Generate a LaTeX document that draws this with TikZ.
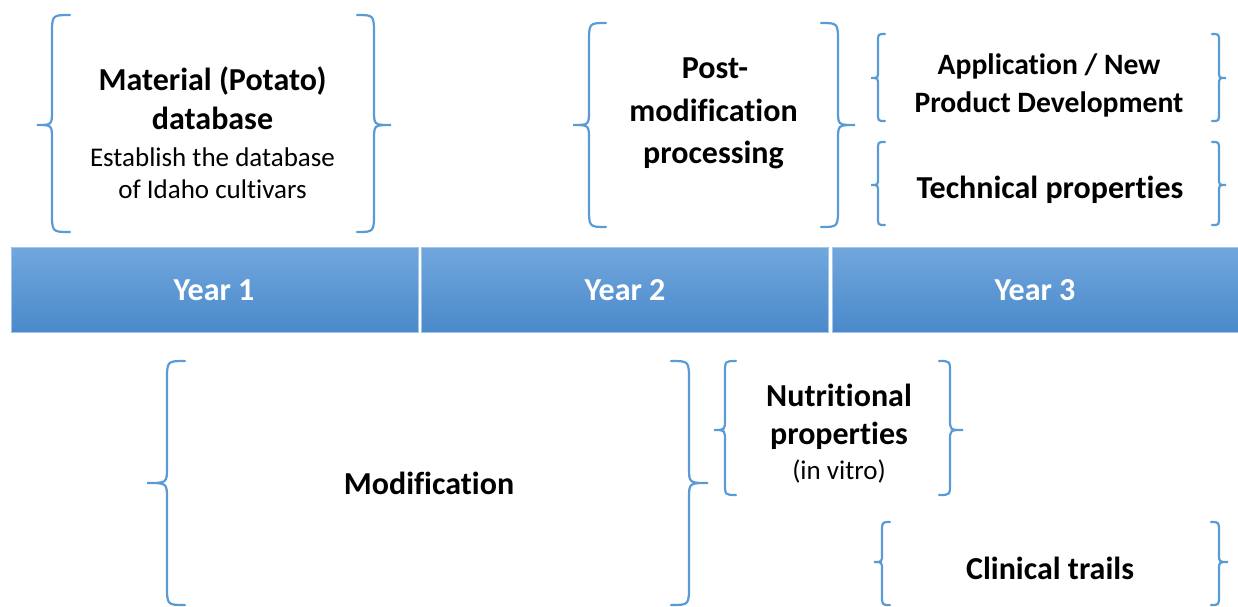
\documentclass[tikz,border=0pt]{standalone}
\usepackage{fontspec}
\setmainfont{Carlito}[Ligatures=NoCommon]
\definecolor{brc}{HTML}{5B9BD5}
\definecolor{bartop}{HTML}{71A7DD}
\definecolor{barbot}{HTML}{4A89CB}
\definecolor{barline}{HTML}{A3C6E8}
\newcommand{\cbrL}[8]{% xv xt xc top mid bot r1 r2
  \draw[brace] (#3,#4) .. controls (#1,#4) .. (#1,#4+#7) -- (#1,#5-#8)
    .. controls (#1,#5) .. (#2,#5) .. controls (#1,#5) .. (#1,#5+#8)
    -- (#1,#6-#7) .. controls (#1,#6) .. (#3,#6);}
\tikzset{
  brace/.style={draw=brc, line width=2.2pt, line cap=round},
  yearbox/.style={draw=barline, line width=1pt, top color=bartop, bottom color=barbot},
  yearlbl/.style={text=white, font=\bfseries\fontsize{32}{38}\selectfont, anchor=base, inner sep=0pt},
  bt/.style={font=\bfseries\fontsize{32}{38}\selectfont, anchor=base, inner sep=0pt},
  bts/.style={font=\bfseries\fontsize{29.6}{36}\selectfont, anchor=base, inner sep=0pt},
  rt/.style={font=\fontsize{27}{32}\selectfont, anchor=base, inner sep=0pt},
}
\begin{document}
\begin{tikzpicture}[x=1pt,y=-1pt]
\useasboundingbox (0,0) rectangle (1238,606);
% year bar
\path[yearbox] (11,247) rectangle (418,332);
\path[yearbox] (421,247) rectangle (828,332);
\path[yearbox] (832,247) rectangle (1240,332);
\node[yearlbl] (y1) at (214,300) {Year 1};
\node[yearlbl] (y2) at (625,300) {Year 2};
\node[yearlbl] (y3) at (1035,300) {Year 3};
% braces (left and right)
\cbrL{52}{37}{70}{15}{125}{232}{20}{15}
\cbrL{374}{391}{357}{15}{125}{232}{20}{15}
\cbrL{589}{573}{606}{23}{125}{227}{20}{15}
\cbrL{838}{855}{821}{23}{125}{227}{20}{15}
\cbrL{878}{871}{885}{34}{78}{121}{8}{7}
\cbrL{1219}{1226}{1212}{34}{78}{121}{8}{7}
\cbrL{878}{871}{885}{142}{185}{225}{8}{7}
\cbrL{1219}{1226}{1212}{142}{185}{225}{8}{7}
\cbrL{167}{147}{185}{361}{483}{605}{20}{16}
\cbrL{689}{708}{671}{361}{483}{605}{20}{16}
\cbrL{725}{714}{736}{361}{430}{495}{12}{11}
\cbrL{950}{963}{939}{361}{430}{495}{12}{11}
\cbrL{882}{874}{890}{522}{562}{605}{10}{8}
\cbrL{1219}{1228}{1211}{522}{562}{605}{10}{8}
% texts
\node[bt] (m1) at (212.5,90) {Material (Potato)};
\node[bt] (m2) at (212.5,129) {database};
\node[rt] (m3) at (212.5,166) {Establish the database};
\node[rt] (m4) at (212.5,198) {of Idaho cultivars};
\node[bt] (p1) at (715,78) {Post-};
\node[bt] (p2) at (713.5,121) {modification};
\node[bt] (p3) at (713.5,163) {processing};
\node[bts] (a1) at (1049,74) {Application / New};
\node[bts] (a2) at (1049,112) {Product Development};
\node[bt] (t1) at (1050,198) {Technical properties};
\node[bt] (mod) at (429,494) {Modification};
\node[bt] (n1) at (839,406) {Nutritional};
\node[bt] (n2) at (839,444) {properties};
\node[rt] (n3) at (839,479) {(in vitro)};
\node[bt] (c1) at (1050,579) {Clinical trails};
\end{tikzpicture}
\end{document}
